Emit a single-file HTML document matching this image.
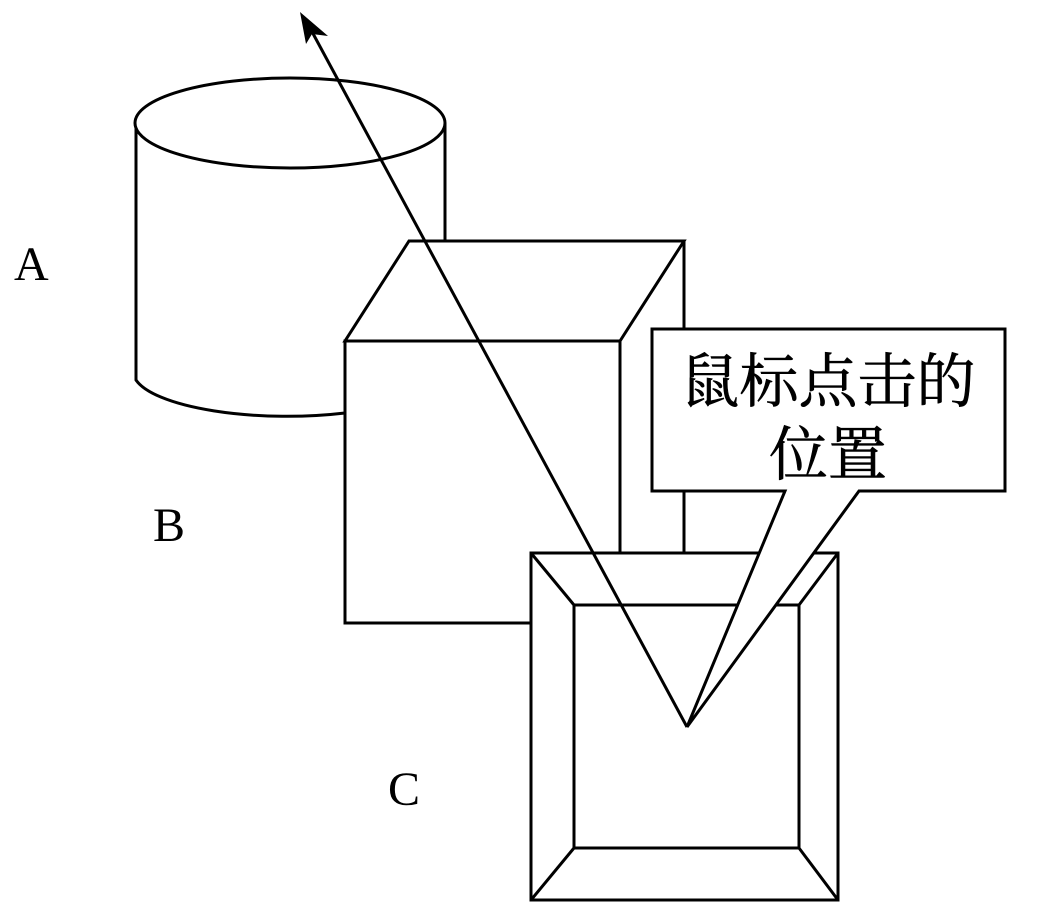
<!DOCTYPE html>
<html><head><meta charset="utf-8"><style>
html,body{margin:0;padding:0;background:#fff;}
svg{display:block;}
</style></head><body>
<svg width="1039" height="914" viewBox="0 0 1039 914" xmlns="http://www.w3.org/2000/svg">
<g fill="none" stroke="#000" stroke-width="3">
<path d="M136,123 L136,380 A154,45 0 0 0 345,413" />
<line x1="445" y1="123" x2="445" y2="241"/>
<ellipse cx="290" cy="123" rx="155" ry="45" fill="#fff"/>
<polygon points="409,241 684,241 620,341 345,341" fill="#fff"/>
<line x1="684" y1="241" x2="684" y2="553"/>
<rect x="345" y="341" width="275" height="282" fill="#fff"/>
<rect x="531" y="553" width="307" height="347" fill="#fff"/>
<rect x="574" y="605" width="225" height="243"/>
<line x1="531" y1="553" x2="574" y2="605"/>
<line x1="838" y1="553" x2="799" y2="605"/>
<line x1="531" y1="900" x2="574" y2="848"/>
<line x1="838" y1="900" x2="799" y2="848"/>
<polygon points="652,329 1005,329 1005,491 859,491 687,727 785,491 652,491" fill="#fff" stroke-linejoin="miter"/>
<line x1="687" y1="727" x2="310" y2="28"/>
</g>
<polygon points="300,12 328,36 312,34 306,44" fill="#000"/>
<g font-family="'Liberation Serif', serif" font-size="48" fill="#000">
<text x="14" y="280">A</text>
<text x="153" y="541">B</text>
<text x="388" y="805">C</text>
</g>
<g font-family="'Liberation Serif','Noto Serif CJK SC',serif" font-size="59" fill="#000" stroke="#000" stroke-width="0.6" text-anchor="middle">
<text x="828" y="402">鼠标点击的</text>
<text x="828" y="475">位置</text>
</g>
</svg>
</body></html>
